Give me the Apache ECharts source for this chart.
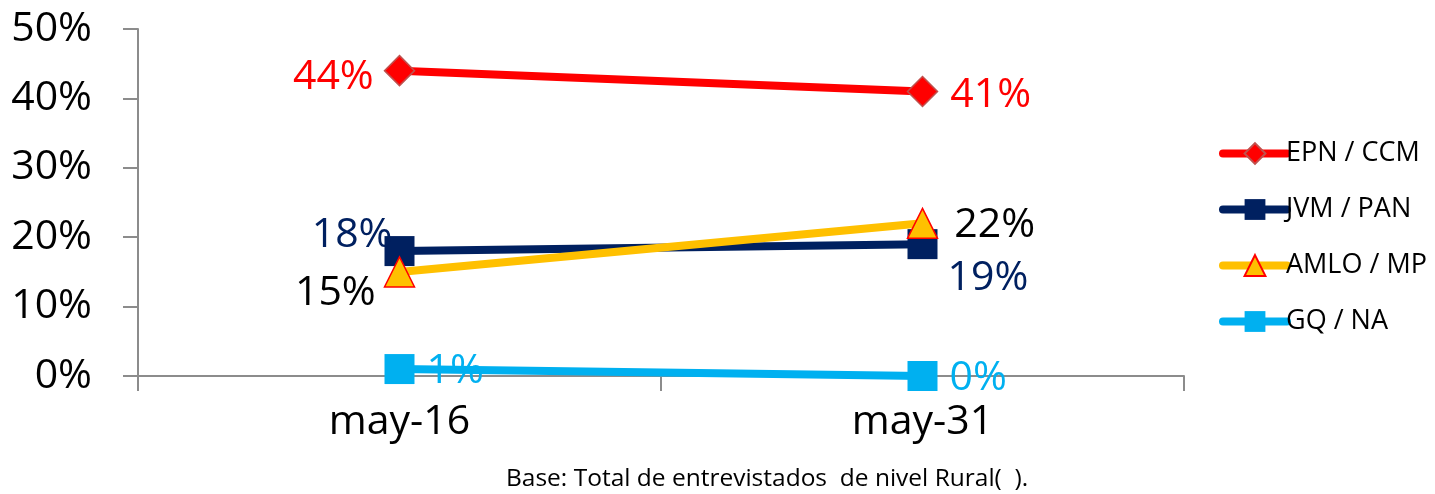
<!DOCTYPE html>
<html>
<head>
<meta charset="utf-8">
<script src="https://cdn.jsdelivr.net/npm/echarts@6/dist/echarts.min.js"></script>
<style>
  html, body { margin: 0; padding: 0; background: #fff; }
  #main { width: 1435px; height: 494px; }
</style>
</head>
<body>
<div id="main"></div>
<script>
// datos
var categorias = ['may-16', 'may-31']
var epn = [44, 41]
var jvm = [18, 19]
var amlo = [15, 22]
var gq = [1, 0]
var yTicks = [0, 10, 20, 30, 40, 50]

var fuente = '"Open Sans", "Liberation Sans", sans-serif'

// etiqueta por punto (izq / der)
function etiqueta(color, pos, offset) {
  return {
    show: true,
    position: pos,
    distance: 10,
    offset: offset || [0, 0],
    color: color,
    fontSize: 41,
    fontFamily: fuente,
    formatter: '{c}%'
  }
}

function puntos(valores, labels) {
  return valores.map(function (v, i) {
    return { value: v, label: labels[i] }
  })
}

var chart = echarts.init(document.getElementById('main'))

var option = {
  backgroundColor: '#ffffff',
  animation: false,
  grid: { left: 138, right: 251, top: 29, bottom: 118 },
  xAxis: {
    type: 'category',
    data: categorias,
    boundaryGap: true,
    axisLine: { lineStyle: { color: '#8c8c8c', width: 2 } },
    axisTick: { show: true, length: 15, lineStyle: { color: '#8c8c8c', width: 2 } },
    axisLabel: { color: '#000', fontSize: 41, fontFamily: fuente, margin: 26 }
  },
  yAxis: {
    type: 'value',
    min: 0,
    max: 50,
    interval: 10,
    axisLine: { show: true, lineStyle: { color: '#8c8c8c', width: 2 } },
    axisTick: { show: true, length: 15, lineStyle: { color: '#8c8c8c', width: 2 } },
    splitLine: { show: false },
    axisLabel: {
      color: '#000', fontSize: 41, fontFamily: fuente, margin: 46,
      formatter: function (v) { return yTicks.indexOf(v) >= 0 ? v + '%' : '' }
    }
  },
  legend: {
    orient: 'vertical',
    left: 1214,
    top: 135,
    itemGap: 29,
    itemWidth: 64,
    itemHeight: 26,
    lineStyle: { width: 8, cap: 'round' },
    textStyle: { color: '#000', fontSize: 27, fontFamily: fuente, padding: [0, 0, 0, -6] },
    data: ['EPN / CCM', 'JVM / PAN', 'AMLO / MP', 'GQ / NA']
  },
  series: [
    {
      name: 'EPN / CCM',
      type: 'line',
      data: puntos(epn, [etiqueta('#ff0000', 'left', [0, 7]), etiqueta('#ff0000', 'right', [2, 4])]),
      lineStyle: { color: '#ff0000', width: 8 },
      itemStyle: { color: '#ff0000', borderColor: '#c0504d', borderWidth: 1.5 },
      symbol: 'diamond',
      symbolSize: 30,
      z: 5
    },
    {
      name: 'JVM / PAN',
      type: 'line',
      data: puntos(jvm, [etiqueta('#002060', 'left', [18, -16]), etiqueta('#002060', 'right', [0, 34])]),
      lineStyle: { color: '#002060', width: 8 },
      itemStyle: { color: '#002060' },
      symbol: 'rect',
      symbolSize: 30,
      z: 3
    },
    {
      name: 'AMLO / MP',
      type: 'line',
      data: puntos(amlo, [etiqueta('#000000', 'left', [2, 21]), etiqueta('#000000', 'right', [6, 2])]),
      lineStyle: { color: '#ffc000', width: 8 },
      itemStyle: { color: '#ffc000', borderColor: '#ff0000', borderWidth: 1.5 },
      symbol: 'triangle',
      symbolSize: 30,
      z: 4
    },
    {
      name: 'GQ / NA',
      type: 'line',
      data: puntos(gq, [etiqueta('#00b0f0', 'right', [2, 2]), etiqueta('#00b0f0', 'right', [2, 2])]),
      lineStyle: { color: '#00b0f0', width: 8 },
      itemStyle: { color: '#00b0f0' },
      symbol: 'rect',
      symbolSize: 30,
      z: 3
    }
  ],
  graphic: [{
    type: 'text',
    left: 506,
    top: 467,
    style: {
      text: 'Base: Total de entrevistados  de nivel Rural(  ).',
      fill: '#000',
      fontSize: 24.5,
      fontFamily: fuente
    }
  }]
}

chart.setOption(option)
</script>
</body>
</html>
